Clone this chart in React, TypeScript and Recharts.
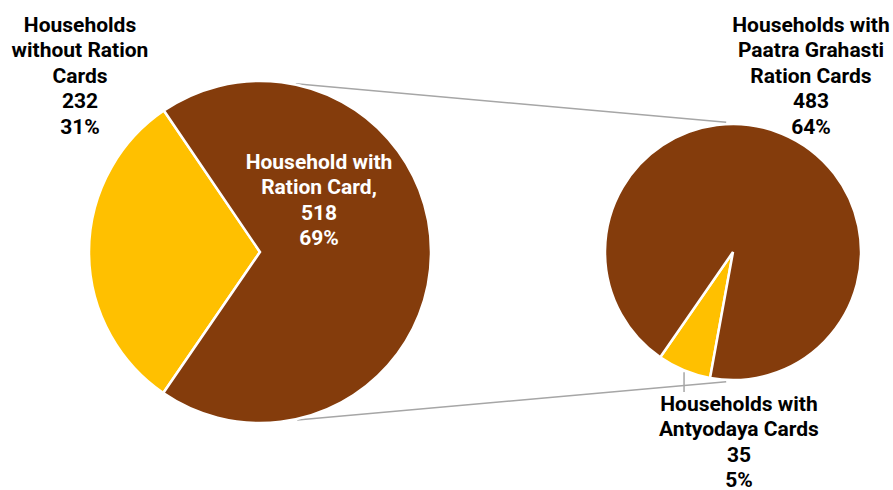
import { PieChart, Pie, Cell, Customized } from 'recharts';

// pie of pie: ration card split, then breakdown of card holders
const mainNames = ['Households without Ration Cards', 'Household with Ration Card,'];
const mainValues = [232, 518];
const mainPercents = ['31%', '69%'];
const mainLabelLines = [['Households', 'without Ration', 'Cards'], ['Household with', 'Ration Card,']];

const subNames = ['Households with Antyodaya Cards', 'Households with Paatra Grahasti Ration Cards'];
const subValues = [35, 483];
const subPercents = ['5%', '64%'];
const subLabelLines = [['Households with', 'Antyodaya Cards'], ['Households with', 'Paatra Grahasti', 'Ration Cards']];

const YELLOW = '#FFC000';
const BROWN = '#843C0C';
const colors = [YELLOW, BROWN];

const W = 893;
const H = 490;
const MAIN = { cx: 260, cy: 252, r: 171, start: 124.2 };
const SUB = { cx: 733, cy: 252, r: 128, start: 235.35 };
const LINE_H = 25.4;
const FONT = 'Roboto, "Noto Sans", sans-serif';

const mainLabelPos = [{ x: 80, y: 32, fill: '#000' }, { x: 319, y: 169, fill: '#fff' }];
const subLabelPos = [{ x: 739, y: 411, fill: '#000' }, { x: 811, y: 32, fill: '#000' }];

const mainData = mainNames.map((name, i) => ({ name, value: mainValues[i] }));
const subData = subNames.map((name, i) => ({ name, value: subValues[i] }));

const RAD = Math.PI / 180;
const polar = (p: { cx: number; cy: number; r: number }, deg: number, dr = 0) => ({
  x: p.cx + (p.r + dr) * Math.cos(deg * RAD),
  y: p.cy - (p.r + dr) * Math.sin(deg * RAD),
});

function LabelBlock({ lines, x, y, fill }: { lines: string[]; x: number; y: number; fill: string }) {
  return (
    <g>
      {lines.map((t, i) => (
        <text key={i} x={x} y={y + i * LINE_H} textAnchor="middle" fill={fill}
          fontFamily={FONT} fontWeight={700} fontSize={21}>
          {t}
        </text>
      ))}
    </g>
  );
}

const mainLabel = (props: any) => {
  const i = props.index;
  const pos = mainLabelPos[i];
  const lines = [...mainLabelLines[i], String(mainValues[i]), mainPercents[i]];
  return <LabelBlock key={`ml${i}`} lines={lines} {...pos} />;
};

const subLabel = (props: any) => {
  const i = props.index;
  const pos = subLabelPos[i];
  const lines = [...subLabelLines[i], String(subValues[i]), subPercents[i]];
  let leader = null;
  if (i === 0) {
    const p = polar(SUB, props.midAngle, 0);
    leader = <line x1={p.x} y1={p.y + 2} x2={p.x} y2={392} stroke="#A6A6A6" strokeWidth={1.5} />;
  }
  return (
    <g key={`sl${i}`}>
      {leader}
      <LabelBlock lines={lines} {...pos} />
    </g>
  );
};

function Connectors() {
  const a = polar(MAIN, 78, 1);
  const b = polar(SUB, 93, 2);
  const c = polar(MAIN, -77.5, 1);
  const d = polar(SUB, -93, 2);
  return (
    <g>
      <line x1={a.x} y1={a.y} x2={b.x} y2={b.y} stroke="#A6A6A6" strokeWidth={1.5} />
      <line x1={c.x} y1={c.y} x2={d.x} y2={d.y} stroke="#A6A6A6" strokeWidth={1.5} />
    </g>
  );
}

export default function App() {
  return (
    <div style={{ position: 'absolute', left: 0, top: 0, width: W, height: H, background: '#fff' }}>
      <PieChart width={W} height={H} margin={{ top: 0, right: 0, bottom: 0, left: 0 }}>
        <Customized component={<Connectors />} />
        <Pie
          data={mainData} dataKey="value" nameKey="name"
          cx={MAIN.cx} cy={MAIN.cy} outerRadius={MAIN.r} innerRadius={0}
          startAngle={MAIN.start} endAngle={MAIN.start + 360}
          stroke="#fff" strokeWidth={2.5}
          label={mainLabel} labelLine={false}
          isAnimationActive={false}
        >
          {mainData.map((_, i) => <Cell key={i} fill={colors[i]} />)}
        </Pie>
        <Pie
          data={subData} dataKey="value" nameKey="name"
          cx={SUB.cx} cy={SUB.cy} outerRadius={SUB.r} innerRadius={0}
          startAngle={SUB.start} endAngle={SUB.start + 360}
          stroke="#fff" strokeWidth={2.5}
          label={subLabel} labelLine={false}
          isAnimationActive={false}
        >
          {subData.map((_, i) => <Cell key={i} fill={colors[i]} />)}
        </Pie>
      </PieChart>
    </div>
  );
}
